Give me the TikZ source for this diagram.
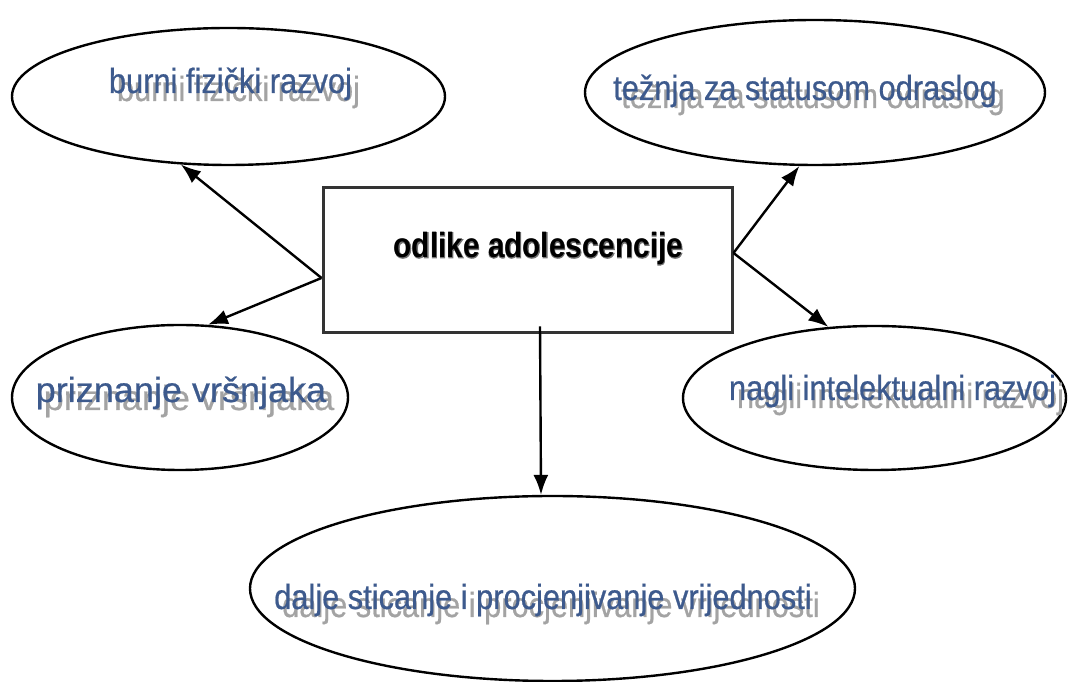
\documentclass[tikz,border=0pt]{standalone}
\usepackage{fontspec}
\usetikzlibrary{arrows.meta}
\usetikzlibrary{shapes.geometric}
\definecolor{textblue}{rgb}{0.239,0.353,0.553}
\definecolor{shadowgray}{rgb}{0.64,0.64,0.64}
\definecolor{boxgray}{rgb}{0.2,0.2,0.2}
\definecolor{rimgray}{rgb}{0.45,0.45,0.45}
\newfontfamily\narrowfont[FakeStretch=0.88,FakeBold=0.6]{Liberation Sans}
\newfontfamily\widefont[FakeStretch=1.03,FakeBold=0.6]{Liberation Sans}
\newfontfamily\titlefont[FakeStretch=0.85]{Liberation Sans}
\newfontfamily\titlerim[FakeStretch=0.85,FakeBold=2.5]{Liberation Sans}
\newcommand{\shadowed}[1]{\makebox[0pt][l]{\hspace{8pt}\raisebox{-8pt}{\color{shadowgray}#1}}{\color{textblue}#1}}
\newcommand{\rimmed}[1]{\makebox[0pt][l]{\color{rimgray}\titlerim\bfseries #1}{\titlefont\bfseries #1}}

\begin{document}
\begin{tikzpicture}[x=1pt,y=1pt,
  bubble/.style={ellipse,draw,line width=2.4pt},
  bubbletext/.style={anchor=base,inner sep=0pt,font=\narrowfont\fontsize{35}{40}\selectfont},
  tip/.style={-{Latex[length=20pt,width=15pt]},line width=2.4pt}]

\useasboundingbox (0,0) rectangle (1069,682);

% the five bubbles
\node [bubble,minimum width=433,minimum height=137] (fizicki) at (228.5,585.5) {};
\node [bubble,minimum width=460,minimum height=145] (status) at (815,589.5) {};
\node [bubble,minimum width=336,minimum height=145] (vrsnjaci) at (180,284.5) {};
\node [bubble,minimum width=383,minimum height=144] (intelekt) at (874.5,284) {};
\node [bubble,minimum width=605,minimum height=185] (vrijednosti) at (552.5,93.5) {};

\node [bubbletext] (fizickitxt) at (230.5,589) {\shadowed{burni fizički razvoj}};
\node [bubbletext] (statustxt) at (805,582) {\shadowed{težnja za statusom odraslog}};
\node [bubbletext,font=\widefont\fontsize{35}{40}\selectfont] (vrsnjacitxt) at (181,280)
      {\shadowed{priznanje vršnjaka}};
\node [bubbletext] (intelekttxt) at (892.5,282) {\shadowed{nagli intelektualni razvoj}};
\node [bubbletext] (vrijednostitxt) at (543,73)
      {\shadowed{dalje sticanje i procjenjivanje vrijednosti}};

% middle box
\node [draw=boxgray,line width=3pt,minimum width=409,minimum height=145] (box) at (527.5,421.5) {};
\node [anchor=base,inner sep=0pt,font=\fontsize{35}{40}\selectfont] (title)
      at (538.5,424) {\rimmed{odlike adolescencije}};

\coordinate (lout) at ([yshift=-17.5]box.west);
\coordinate (rout) at ([yshift=7.5]box.east);
\coordinate (dout) at ([xshift=12.5,yshift=8]box.south);

% arrows
\draw [tip] (lout) -- (fizicki.235.7);
\draw [tip] (lout) -- (vrsnjaci.69.6);
\draw [tip] (rout) -- (status.-102.4);
\draw [tip] (rout) -- (intelekt.123.4);
\draw [tip] (dout) -- (vrijednosti.97.7);

\end{tikzpicture}
\end{document}
